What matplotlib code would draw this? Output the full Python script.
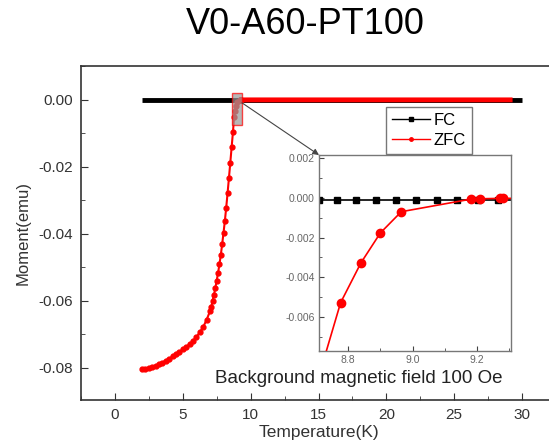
import numpy as np
import matplotlib
matplotlib.use('Agg')
import matplotlib.pyplot as plt
from matplotlib.patches import Rectangle, ConnectionPatch
from matplotlib.ticker import MultipleLocator

plt.rcParams['font.family'] = ['Liberation Sans', 'DejaVu Sans']

# FC (field cooled) - essentially flat just below zero
fc_T = [2.0, 3.0, 4.0, 5.0, 6.0, 7.0, 8.0, 8.5, 8.71, 8.766, 8.825, 8.887, 8.949,
        9.011, 9.075, 9.137, 9.202, 9.264, 9.33, 10.0, 12.0, 14.0, 16.0, 18.0,
        20.0, 22.0, 24.0, 26.0, 28.0, 30.0]
fc_M = [-0.00012] * len(fc_T)

# ZFC (zero field cooled)
zfc_T = [2.0, 2.25, 2.5, 2.75, 3.0, 3.25, 3.5, 3.75, 4.0, 4.25, 4.5, 4.75, 5.0,
         5.25, 5.5, 5.75, 6.0, 6.25, 6.5, 6.75, 7.0, 7.1, 7.2, 7.3, 7.4, 7.5,
         7.6, 7.7, 7.8, 7.9, 8.0, 8.1, 8.2, 8.3, 8.4, 8.5, 8.6, 8.7, 8.777,
         8.84, 8.90, 8.965, 9.18, 9.21, 9.27, 9.28, 10.0, 12.0, 14.0, 16.0,
         18.0, 20.0, 22.0, 24.0, 26.0, 28.0, 29.3]
zfc_M = [-0.0805, -0.0803, -0.0801, -0.0798, -0.0794, -0.0790, -0.0785, -0.0779,
         -0.0773, -0.0767, -0.0760, -0.0753, -0.0746, -0.0738, -0.0730, -0.0720,
         -0.0709, -0.0695, -0.0679, -0.0658, -0.0632, -0.0618, -0.0600, -0.0582,
         -0.0562, -0.0540, -0.0517, -0.0492, -0.0464, -0.0432, -0.0398, -0.0362,
         -0.0322, -0.0279, -0.0234, -0.0188, -0.0141, -0.0095, -0.00527,
         -0.00327, -0.00177, -0.0007, -0.00007, -0.00005, -0.00003, -0.00003,
         -0.00002, -0.00002, -0.00002, -0.00002, -0.00002, -0.00002, -0.00002,
         -0.00002, -0.00002, -0.00002, -0.00002]

fc_T = np.array(fc_T); fc_M = np.array(fc_M)
zfc_T = np.array(zfc_T); zfc_M = np.array(zfc_M)
dense = zfc_T < 9.3
flat = zfc_T > 9.0

fig = plt.figure(figsize=(5.49, 4.47), dpi=100)
ax = fig.add_axes([81/549, 1-400/447, 475/549, 334/447])

ax.plot(fc_T, fc_M, color='black', lw=3.5, solid_capstyle='butt', zorder=2)
ax.plot(zfc_T[flat], zfc_M[flat], color='red', lw=3.5, solid_capstyle='butt', zorder=3)
ax.plot(zfc_T[dense], zfc_M[dense], color='red', lw=1.5, marker='o', ms=3.5,
        mec='red', zorder=3)
# legend handles
ax.plot([], [], color='black', lw=1, marker='s', ms=2.5, label='FC')
ax.plot([], [], color='red', lw=1, marker='o', ms=2.5, label='ZFC')

ax.set_xlim(-2.5, 32.5)
ax.set_ylim(-0.0897, 0.0101)
ax.xaxis.set_major_locator(MultipleLocator(5))
ax.xaxis.set_minor_locator(MultipleLocator(2.5))
ax.yaxis.set_major_locator(MultipleLocator(0.02))
ax.yaxis.set_minor_locator(MultipleLocator(0.01))
ax.yaxis.set_major_formatter(plt.FormatStrFormatter('%.2f'))
ax.tick_params(which='both', direction='in', top=False, right=False, colors='#333333',
               labelsize=11)
ax.tick_params(which='major', length=5, pad=6)
ax.tick_params(which='minor', length=3)
for s in ax.spines.values():
    s.set_color('#333333')
    s.set_linewidth(1.2)
ax.set_xlabel('Temperature(K)', fontsize=12.5, color='#333333', labelpad=2)
ax.set_ylabel('Moment(emu)', fontsize=12, color='#333333', labelpad=5)

leg = ax.legend(loc='upper left', bbox_to_anchor=(305/475, 1-41/334), fontsize=12,
                frameon=True, fancybox=False, edgecolor='#555555', borderpad=0.35,
                handlelength=2.3, labelspacing=0.3, handletextpad=0.2,
                borderaxespad=0)
leg.get_frame().set_linewidth(1.0)

ax.text(18.0, -0.0833, 'Background magnetic field 100 Oe', fontsize=13.5,
        color='#222222', ha='center', va='center')

# zoom box
ax.add_patch(Rectangle((8.62, -0.0075), 0.74, 0.0096, facecolor='#999999',
                       alpha=0.7, edgecolor='red', lw=1, zorder=4))

fig.text(305/549, 1-24/447, 'V0-A60-PT100', fontsize=26, ha='center', va='center')

# inset
ins = fig.add_axes([319/549, 1-351/447, 192/549, 196/447])
ins.plot(fc_T, fc_M, color='black', lw=1.2, marker='s', ms=5, zorder=2)
ins.plot(zfc_T, zfc_M, color='red', lw=1.2, marker='o', ms=6, zorder=3)
ins.set_xlim(8.71, 9.305)
ins.set_ylim(-0.0077, 0.00215)
ins.xaxis.set_major_locator(MultipleLocator(0.2))
ins.xaxis.set_minor_locator(MultipleLocator(0.1))
ins.yaxis.set_major_locator(MultipleLocator(0.002))
ins.yaxis.set_minor_locator(MultipleLocator(0.001))
ins.yaxis.set_major_formatter(plt.FormatStrFormatter('%.3f'))
ins.xaxis.set_major_formatter(plt.FormatStrFormatter('%.1f'))
ins.tick_params(which='both', direction='in', colors='#444444', labelsize=7.5,
                labelcolor='#666666', pad=3)
ins.tick_params(which='major', length=3.5)
ins.tick_params(which='minor', length=2)
for s in ins.spines.values():
    s.set_color('#777777')
    s.set_linewidth(1.0)

con = ConnectionPatch(xyA=(9.36, -0.0009), coordsA=ax.transData,
                      xyB=(0, 1), coordsB=ins.transAxes, arrowstyle='-|>',
                      color='#444444', lw=0.8, mutation_scale=9)
fig.add_artist(con)

fig.savefig('out.png', dpi=100)
